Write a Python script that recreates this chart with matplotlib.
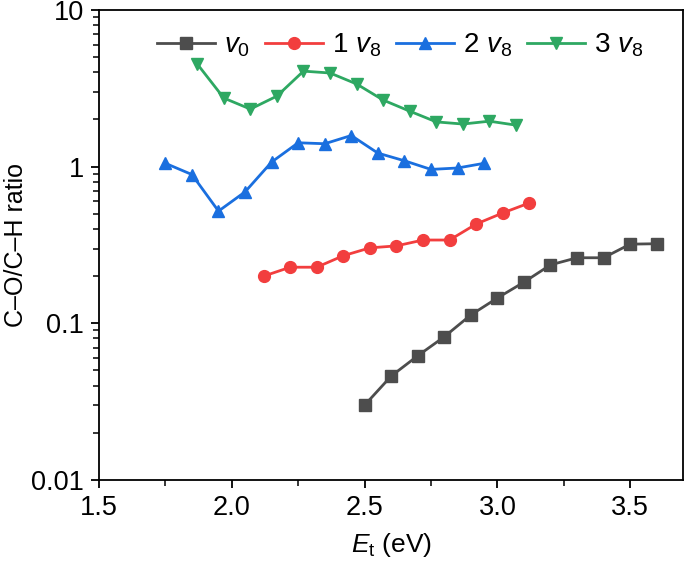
import numpy as np
import matplotlib
matplotlib.use("Agg")
import matplotlib.pyplot as plt
from matplotlib.ticker import LogLocator, NullFormatter, FixedLocator

plt.rcParams['font.family'] = ['Liberation Sans', 'DejaVu Sans']
plt.rcParams['mathtext.fontset'] = 'custom'
plt.rcParams['mathtext.rm'] = 'Liberation Sans'
plt.rcParams['mathtext.it'] = 'Liberation Sans:italic'

# Data
x_v0 = [2.5, 2.6, 2.7, 2.8, 2.9, 3.0, 3.1, 3.2, 3.3, 3.4, 3.5, 3.6]
y_v0 = [0.030, 0.046, 0.062, 0.082, 0.113, 0.145, 0.183, 0.236, 0.262, 0.262, 0.32, 0.322]

x_1v8 = [2.12, 2.22, 2.32, 2.42, 2.52, 2.62, 2.72, 2.82, 2.92, 3.02, 3.12]
y_1v8 = [0.200, 0.228, 0.228, 0.270, 0.303, 0.312, 0.340, 0.340, 0.430, 0.506, 0.586]

x_2v8 = [1.75, 1.85, 1.95, 2.05, 2.15, 2.25, 2.35, 2.45, 2.55, 2.65, 2.75, 2.85, 2.95]
y_2v8 = [1.05, 0.89, 0.52, 0.69, 1.07, 1.42, 1.40, 1.58, 1.22, 1.09, 0.96, 0.98, 1.05]

x_3v8 = [1.87, 1.97, 2.07, 2.17, 2.27, 2.37, 2.47, 2.57, 2.67, 2.77, 2.87, 2.97, 3.07]
y_3v8 = [4.52, 2.74, 2.33, 2.82, 4.07, 3.96, 3.37, 2.66, 2.26, 1.93, 1.87, 1.95, 1.84]

labels = [r'$v_0$', r'1 $v_8$', r'2 $v_8$', r'3 $v_8$']
colors = ['#4d4d4d', '#f23e3e', '#1a6fdf', '#2ea862']
markers = ['s', 'o', '^', 'v']


def main():
    fig = plt.figure(figsize=(6.85, 5.7), dpi=100)
    ax = fig.add_axes([0.1445, 0.158, 0.853, 0.8245])

    series = [(x_v0, y_v0), (x_1v8, y_1v8), (x_2v8, y_2v8), (x_3v8, y_3v8)]
    for (xs, ys), lab, c, m in zip(series, labels, colors, markers):
        ax.plot(xs, ys, color=c, marker=m, markersize=8.5, linewidth=2,
                label=lab)

    ax.set_yscale('log')
    ax.set_ylim(0.01, 10)
    ax.set_xlim(1.5, 3.7)
    ax.set_xticks([1.5, 2.0, 2.5, 3.0, 3.5])
    ax.set_xticklabels(['1.5', '2.0', '2.5', '3.0', '3.5'])
    ax.xaxis.set_minor_locator(FixedLocator([1.75, 2.25, 2.75, 3.25]))
    ax.set_yticks([0.01, 0.1, 1, 10])
    ax.set_yticklabels(['0.01', '0.1', '1', '10'])
    ax.yaxis.set_minor_locator(LogLocator(base=10, subs=np.arange(2, 10)))
    ax.yaxis.set_minor_formatter(NullFormatter())

    ax.tick_params(which='major', direction='out', length=6, width=1.3,
                   labelsize=19.5, pad=5)
    ax.tick_params(which='minor', direction='out', length=4, width=1.1)
    for s in ax.spines.values():
        s.set_linewidth(1.3)

    ax.set_xlabel(r'$\mathit{E}_{\mathrm{t}}$ (eV)', fontsize=19, labelpad=7)
    ax.set_ylabel('C\u2013O/C\u2013H ratio', fontsize=18, labelpad=2)

    ax.legend(loc='upper center', bbox_to_anchor=(0.515, 0.99), ncol=4,
              frameon=False, fontsize=20, handlelength=2.1,
              columnspacing=0.55, handletextpad=0.3, borderaxespad=0.2)

    fig.savefig('out.png', dpi=100)


if __name__ == "__main__":
    main()
